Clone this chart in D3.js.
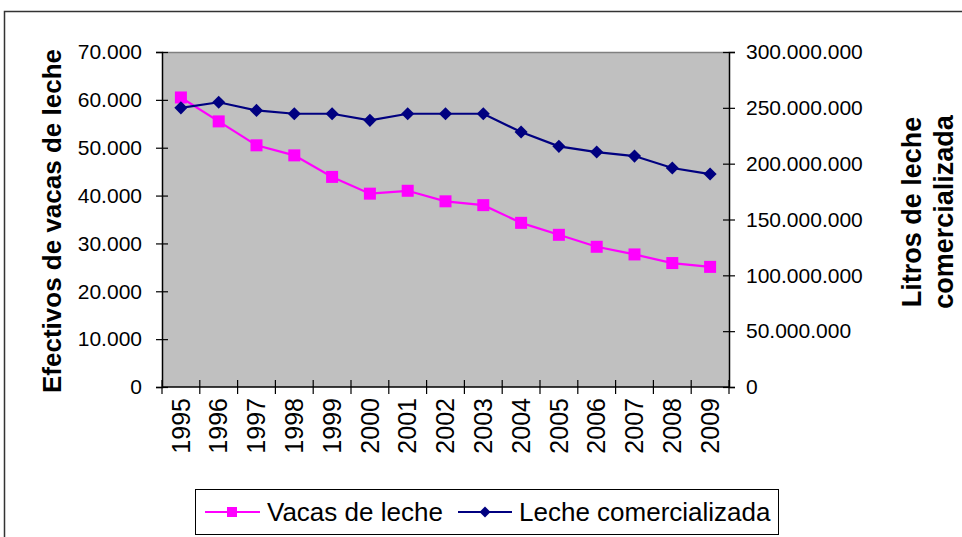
<!DOCTYPE html>
<html>
<head>
<meta charset="utf-8">
<script src="https://cdn.jsdelivr.net/npm/d3@7/dist/d3.min.js"></script>
<style>
  body { margin: 0; background: #fff; }
  svg { display: block; font-family: Arial, "Liberation Sans", sans-serif; }
</style>
</head>
<body>
<svg width="962" height="537"></svg>
<script>
let years = ['1995','1996','1997','1998','1999','2000','2001','2002','2003','2004','2005','2006','2007','2008','2009'];
let vacas = [60500, 55500, 50500, 48400, 43900, 40400, 41000, 38800, 38000, 34300, 31800, 29300, 27700, 25900, 25100];
let leche = [250000000, 255000000, 247700000, 244700000, 244700000, 238800000, 244700000, 244700000, 244700000, 228300000, 215500000, 210400000, 206800000, 196100000, 190700000];
let leftTicks = [0, 10000, 20000, 30000, 40000, 50000, 60000, 70000];
let rightTicks = [0, 50000000, 100000000, 150000000, 200000000, 250000000, 300000000];

let pink = '#ff00ff';
let navy = '#000080';
let plotL = 162, plotR = 729, plotT = 52, plotB = 387;

let svg = d3.select('svg');

// outer chart border
svg.append('rect')
  .attr('x', 4.5).attr('y', 11.5)
  .attr('width', 1000).attr('height', 600)
  .attr('fill', 'none').attr('stroke', '#333').attr('stroke-width', 1.5);

// plot area
svg.append('rect')
  .attr('x', plotL).attr('y', plotT)
  .attr('width', plotR - plotL).attr('height', plotB - plotT)
  .attr('fill', '#c0c0c0');
svg.append('line')
  .attr('x1', plotL).attr('x2', plotR).attr('y1', plotT + 0.5).attr('y2', plotT + 0.5)
  .attr('stroke', '#808080').attr('stroke-width', 1.5);

let xScale = d3.scaleBand().domain(years).range([plotL, plotR]);
let yLeft = d3.scaleLinear().domain([0, 70000]).range([plotB, plotT]);
let yRight = d3.scaleLinear().domain([0, 300000000]).range([plotB, plotT]);

let fmt = d => d3.format(',')(d).replace(/,/g, '.');

let leftAxis = svg.append('g')
  .attr('transform', `translate(${plotL},0)`)
  .call(d3.axisLeft(yLeft).tickValues(leftTicks).tickFormat(fmt).tickSize(6).tickPadding(14));
let rightAxis = svg.append('g')
  .attr('transform', `translate(${plotR},0)`)
  .call(d3.axisRight(yRight).tickValues(rightTicks).tickFormat(fmt).tickSize(6).tickPadding(11));

[leftAxis, rightAxis].forEach(g => {
  g.select('.domain').attr('stroke', '#000').attr('stroke-width', 1.5);
  g.selectAll('.tick line').attr('x1', -6).attr('x2', 6).attr('stroke', '#000').attr('stroke-width', 1.2);
  g.selectAll('.tick text').attr('font-size', 21).attr('fill', '#000')
    .attr('font-family', 'Arial, "Liberation Sans", sans-serif');
});

// category axis
let xAxis = svg.append('g');
xAxis.append('line')
  .attr('x1', plotL).attr('x2', plotR).attr('y1', plotB).attr('y2', plotB)
  .attr('stroke', '#000').attr('stroke-width', 1.5);
xAxis.selectAll('line.tk')
  .data(years.map(d => xScale(d)).concat([plotR]))
  .enter().append('line')
  .attr('class', 'tk')
  .attr('x1', d => d).attr('x2', d => d)
  .attr('y1', plotB - 7).attr('y2', plotB + 7)
  .attr('stroke', '#000').attr('stroke-width', 1.2);
xAxis.selectAll('text')
  .data(years)
  .enter().append('text')
  .attr('transform', d => `translate(${xScale(d) + xScale.bandwidth() / 2},398) rotate(-90)`)
  .attr('text-anchor', 'end')
  .attr('dy', '0.35em')
  .attr('font-size', 25)
  .text(d => d);

// lines
let cx = d => xScale(d) + xScale.bandwidth() / 2;

svg.append('path')
  .datum(vacas)
  .attr('fill', 'none').attr('stroke', pink).attr('stroke-width', 2.2)
  .attr('d', d3.line().x((d, i) => cx(years[i])).y(d => yLeft(d)));

svg.append('path')
  .datum(leche)
  .attr('fill', 'none').attr('stroke', navy).attr('stroke-width', 2.2)
  .attr('d', d3.line().x((d, i) => cx(years[i])).y(d => yRight(d)));

svg.selectAll('rect.sq')
  .data(vacas)
  .enter().append('rect')
  .attr('class', 'sq')
  .attr('x', (d, i) => cx(years[i]) - 6)
  .attr('y', d => yLeft(d) - 6)
  .attr('width', 12).attr('height', 12)
  .attr('fill', pink);

let diamond = d3.symbol().type(d3.symbolSquare).size(86);
svg.selectAll('path.dm')
  .data(leche)
  .enter().append('path')
  .attr('class', 'dm')
  .attr('d', diamond)
  .attr('transform', (d, i) => `translate(${cx(years[i])},${yRight(d)}) rotate(45)`)
  .attr('fill', navy);

// axis titles
svg.append('text')
  .attr('transform', 'translate(52,221) rotate(-90)')
  .attr('text-anchor', 'middle')
  .attr('dy', '0.35em')
  .attr('font-size', 26).attr('font-weight', 'bold')
  .text('Efectivos de vacas de leche');

svg.append('text')
  .attr('transform', 'translate(912,212) rotate(-90)')
  .attr('text-anchor', 'middle')
  .attr('dy', '0.35em')
  .attr('font-size', 27).attr('font-weight', 'bold')
  .text('Litros de leche');
svg.append('text')
  .attr('transform', 'translate(944,212) rotate(-90)')
  .attr('text-anchor', 'middle')
  .attr('dy', '0.35em')
  .attr('font-size', 27).attr('font-weight', 'bold')
  .text('comercializada');

// legend
let legend = svg.append('g');
legend.append('rect')
  .attr('x', 195.5).attr('y', 489.5)
  .attr('width', 583).attr('height', 45)
  .attr('fill', '#fff').attr('stroke', '#000').attr('stroke-width', 1);

legend.append('line')
  .attr('x1', 205).attr('x2', 260).attr('y1', 512).attr('y2', 512)
  .attr('stroke', pink).attr('stroke-width', 2.2);
legend.append('rect')
  .attr('x', 227).attr('y', 507).attr('width', 10).attr('height', 10)
  .attr('fill', pink);
legend.append('text')
  .attr('x', 267).attr('y', 512).attr('dy', '0.35em')
  .attr('font-size', 26)
  .text('Vacas de leche');

legend.append('line')
  .attr('x1', 458).attr('x2', 512).attr('y1', 512).attr('y2', 512)
  .attr('stroke', navy).attr('stroke-width', 2.2);
legend.append('path')
  .attr('d', d3.symbol().type(d3.symbolSquare).size(60))
  .attr('transform', 'translate(485,512) rotate(45)')
  .attr('fill', navy);
legend.append('text')
  .attr('x', 519).attr('y', 512).attr('dy', '0.35em')
  .attr('font-size', 26)
  .text('Leche comercializada');
</script>
</body>
</html>
